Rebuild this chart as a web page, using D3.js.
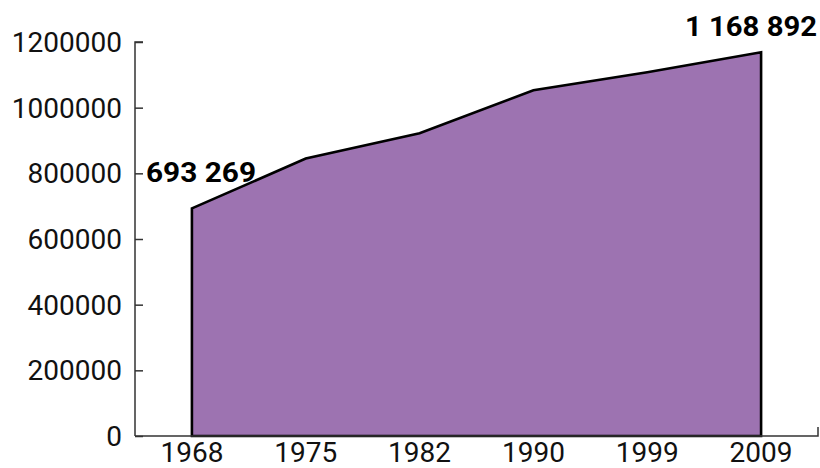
<!DOCTYPE html>
<html><head><meta charset="utf-8">
<script src="https://cdn.jsdelivr.net/npm/d3@7"></script>
<style>body{margin:0;background:#fff}svg{display:block}</style>
</head><body>
<svg id="c" width="820" height="468"></svg>
<script>
const years = ["1968","1975","1982","1990","1999","2009"];
const population = [693269, 845000, 922000, 1053000, 1108000, 1168892];
const yTicks = [0, 200000, 400000, 600000, 800000, 1000000, 1200000];
const annotations = [{i:0, text:"693 269"}, {i:5, text:"1 168 892"}];

const svg = d3.select("#c");
const W = 820, H = 468;
const m = {left:135, right:2, top:42, bottom:32};
const x = d3.scalePoint().domain(years).range([m.left, W - m.right]).padding(0.5);
const y = d3.scaleLinear().domain([0, 1200000]).range([H - m.bottom, m.top]);
const font = "Roboto, 'Open Sans', sans-serif";

const data = years.map((yr, i) => ({yr, v: population[i]}));
const area = d3.area().x(d => x(d.yr)).y0(y(0)).y1(d => y(d.v));
svg.append("path").datum(data).attr("d", area)
  .attr("fill", "#9d73b1").attr("stroke", "#000").attr("stroke-width", 2.6)
  .attr("stroke-linejoin", "miter");

// Y axis
const ya = svg.append("g").attr("transform", `translate(${m.left},0)`)
  .call(d3.axisRight(y).tickValues(yTicks).tickSize(8).tickFormat(""));
ya.select(".domain").attr("stroke", "#333").attr("stroke-width", 1.5).attr("d", `M8,${y(1200000)}H0V${y(0)}`);
ya.selectAll(".tick line").attr("stroke", "#333").attr("stroke-width", 1.5);
svg.append("g").selectAll("text").data(yTicks).join("text")
  .attr("x", m.left - 13).attr("y", d => y(d)).attr("dy", "0.36em")
  .attr("text-anchor", "end").attr("font-family", font).attr("font-size", 28)
  .attr("fill", "#111").text(d => d3.format("d")(d));

// X axis
const xa = svg.append("g").attr("transform", `translate(0,${y(0)})`)
  .call(d3.axisBottom(x).tickSize(0).tickFormat(""));
xa.select(".domain").attr("stroke", "#333").attr("stroke-width", 1.5)
  .attr("d", `M${m.left},0H${W - m.right}V-9`);
svg.append("g").selectAll("text").data(years).join("text")
  .attr("x", d => x(d)).attr("y", H - 6)
  .attr("text-anchor", "middle").attr("font-family", font).attr("font-size", 28)
  .attr("fill", "#111").text(d => d);

// annotations
svg.append("text").attr("x", 146).attr("y", y(population[0]) - 26)
  .attr("font-family", font).attr("font-weight", "bold").attr("font-size", 27.5)
  .attr("textLength", 110).attr("lengthAdjust", "spacingAndGlyphs")
  .attr("fill", "#000").text(annotations[0].text);
svg.append("text").attr("x", 685).attr("y", y(population[5]) - 16)
  .attr("font-family", font).attr("font-weight", "bold").attr("font-size", 27.5)
  .attr("textLength", 132).attr("lengthAdjust", "spacingAndGlyphs")
  .attr("fill", "#000").text(annotations[1].text);
</script>
</body></html>
